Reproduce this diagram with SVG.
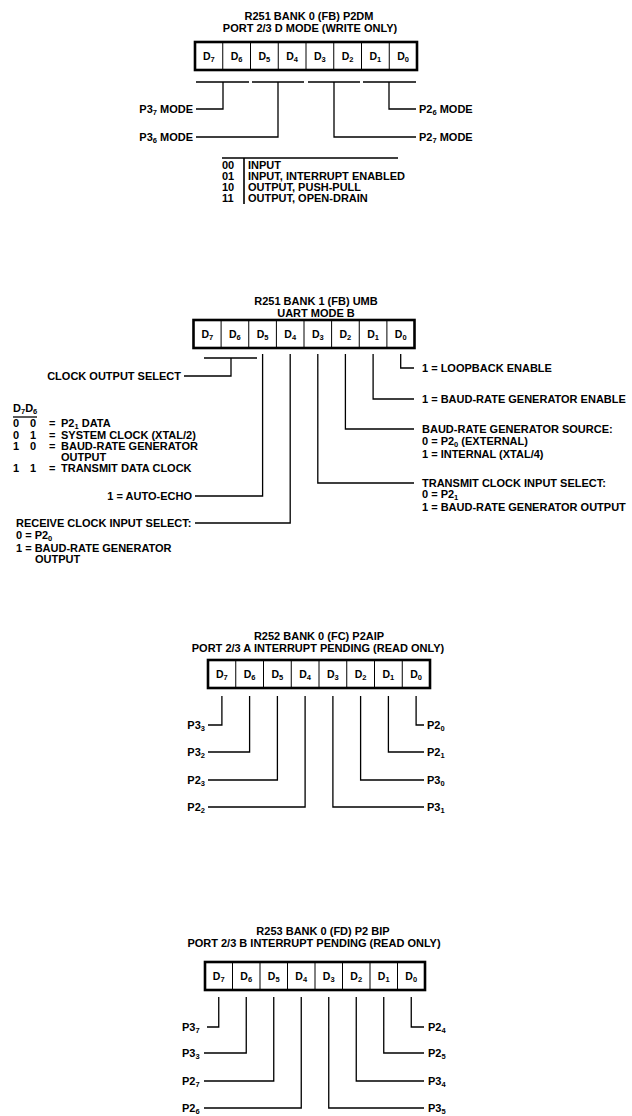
<svg xmlns="http://www.w3.org/2000/svg" width="632" height="1116" viewBox="0 0 632 1116">
<style>
.t{font-family:"Liberation Sans",Arial,sans-serif;font-weight:bold;font-size:11px;fill:#000}
.ttl{text-anchor:middle}
.cell{font-size:10.5px;text-anchor:middle}
.e{text-anchor:end}
.s{font-size:7.5px}
.box{fill:#fff;stroke:#000;stroke-width:2.6}
.dv{stroke:#000;stroke-width:1}
.ln{fill:none;stroke:#000;stroke-width:1.3}
.tb{fill:none;stroke:#000;stroke-width:1.6}
</style>
<rect width="632" height="1116" fill="#fff"/>

<!-- Register 1 -->
<g id="reg-r251-p2dm">
<text class="t ttl" x="309" y="20">R251 BANK 0 (FB) P2DM</text>
<text class="t ttl" x="310" y="32">PORT 2/3 D MODE (WRITE ONLY)</text>
<rect class="box" x="195" y="42" width="222" height="28"/>
<path class="dv" d="M222.75 42V70M250.5 42V70M278.25 42V70M306 42V70M333.75 42V70M361.5 42V70M389.25 42V70"/>
<text class="t cell" x="208.9" y="59.5">D<tspan class="s" dy="2">7</tspan></text>
<text class="t cell" x="236.6" y="59.5">D<tspan class="s" dy="2">6</tspan></text>
<text class="t cell" x="264.4" y="59.5">D<tspan class="s" dy="2">5</tspan></text>
<text class="t cell" x="292.1" y="59.5">D<tspan class="s" dy="2">4</tspan></text>
<text class="t cell" x="319.9" y="59.5">D<tspan class="s" dy="2">3</tspan></text>
<text class="t cell" x="347.6" y="59.5">D<tspan class="s" dy="2">2</tspan></text>
<text class="t cell" x="375.4" y="59.5">D<tspan class="s" dy="2">1</tspan></text>
<text class="t cell" x="403.1" y="59.5">D<tspan class="s" dy="2">0</tspan></text>
</g>
<g id="lbl-r251-p2dm">
<text class="t e" x="193" y="113">P3<tspan class="s" dy="1.5">7</tspan><tspan dy="-1.5"> MODE</tspan></text>
<text class="t e" x="193" y="141">P3<tspan class="s" dy="1.5">6</tspan><tspan dy="-1.5"> MODE</tspan></text>
<text class="t" x="419" y="113">P2<tspan class="s" dy="1.5">6</tspan><tspan dy="-1.5"> MODE</tspan></text>
<text class="t" x="419" y="141">P2<tspan class="s" dy="1.5">7</tspan><tspan dy="-1.5"> MODE</tspan></text>
</g>
<g id="legend-mode">
<path class="tb" d="M222 158H398M244 158V204"/>
<text class="t" x="222" y="169">00</text>
<text class="t" x="222" y="180">01</text>
<text class="t" x="222" y="191">10</text>
<text class="t" x="222" y="202">11</text>
<text class="t" x="248" y="169">INPUT</text>
<text class="t" x="248" y="180">INPUT, INTERRUPT ENABLED</text>
<text class="t" x="248" y="191">OUTPUT, PUSH-PULL</text>
<text class="t" x="248" y="202">OUTPUT, OPEN-DRAIN</text>
</g>

<!-- Register 2 -->
<g id="reg-r251-umb">
<text class="t ttl" x="316" y="305">R251 BANK 1 (FB) UMB</text>
<text class="t ttl" x="316" y="317">UART MODE B</text>
<rect class="box" x="193.5" y="320" width="221" height="28"/>
<path class="dv" d="M221.1 320V348M248.75 320V348M276.4 320V348M304 320V348M331.6 320V348M359.25 320V348M386.9 320V348"/>
<text class="t cell" x="207.3" y="337.5">D<tspan class="s" dy="2">7</tspan></text>
<text class="t cell" x="234.9" y="337.5">D<tspan class="s" dy="2">6</tspan></text>
<text class="t cell" x="262.6" y="337.5">D<tspan class="s" dy="2">5</tspan></text>
<text class="t cell" x="290.2" y="337.5">D<tspan class="s" dy="2">4</tspan></text>
<text class="t cell" x="317.8" y="337.5">D<tspan class="s" dy="2">3</tspan></text>
<text class="t cell" x="345.4" y="337.5">D<tspan class="s" dy="2">2</tspan></text>
<text class="t cell" x="373.1" y="337.5">D<tspan class="s" dy="2">1</tspan></text>
<text class="t cell" x="400.7" y="337.5">D<tspan class="s" dy="2">0</tspan></text>
</g>
<g id="lbl-r251-umb">
<text class="t e" x="181" y="380">CLOCK OUTPUT SELECT</text>
<text class="t e" x="192" y="500">1 = AUTO-ECHO</text>
<text class="t" x="16" y="527">RECEIVE CLOCK INPUT SELECT:</text>
<text class="t" x="16" y="539">0 = P2<tspan class="s" dy="1.5">0</tspan></text>
<text class="t" x="16" y="552">1 = BAUD-RATE GENERATOR</text>
<text class="t" x="35" y="563">OUTPUT</text>
<text class="t" x="422" y="372">1 = LOOPBACK ENABLE</text>
<text class="t" x="422" y="403">1 = BAUD-RATE GENERATOR ENABLE</text>
<text class="t" x="422" y="433">BAUD-RATE GENERATOR SOURCE:</text>
<text class="t" x="422" y="445">0 = P2<tspan class="s" dy="1.5">0</tspan><tspan dy="-1.5"> (EXTERNAL)</tspan></text>
<text class="t" x="422" y="458">1 = INTERNAL (XTAL/4)</text>
<text class="t" x="422" y="487">TRANSMIT CLOCK INPUT SELECT:</text>
<text class="t" x="422" y="498">0 = P2<tspan class="s" dy="1.5">1</tspan></text>
<text class="t" x="422" y="511">1 = BAUD-RATE GENERATOR OUTPUT</text>
</g>
<g id="legend-clock">
<text class="t" x="13" y="412">D<tspan class="s" dy="1.5">7</tspan><tspan dy="-1.5">D</tspan><tspan class="s" dy="1.5">6</tspan></text>
<path class="ln" d="M13 417H37"/>
<text class="t" x="13" y="427">0</text><text class="t" x="30" y="427">0</text><text class="t" x="49" y="427">=</text>
<text class="t" x="61" y="427">P2<tspan class="s" dy="1.5">1</tspan><tspan dy="-1.5"> DATA</tspan></text>
<text class="t" x="13" y="439">0</text><text class="t" x="30" y="439">1</text><text class="t" x="49" y="439">=</text>
<text class="t" x="61" y="439">SYSTEM CLOCK (XTAL/2)</text>
<text class="t" x="13" y="450">1</text><text class="t" x="30" y="450">0</text><text class="t" x="49" y="450">=</text>
<text class="t" x="61" y="450">BAUD-RATE GENERATOR</text>
<text class="t" x="61" y="461">OUTPUT</text>
<text class="t" x="13" y="472">1</text><text class="t" x="30" y="472">1</text><text class="t" x="49" y="472">=</text>
<text class="t" x="61" y="472">TRANSMIT DATA CLOCK</text>
</g>

<!-- Register 3 -->
<g id="reg-r252-p2aip">
<text class="t ttl" x="319" y="640">R252 BANK 0 (FC) P2AIP</text>
<text class="t ttl" x="318" y="652">PORT 2/3 A INTERRUPT PENDING (READ ONLY)</text>
<rect class="box" x="208" y="660" width="222" height="28"/>
<path class="dv" d="M235.75 660V688M263.5 660V688M291.25 660V688M319 660V688M346.75 660V688M374.5 660V688M402.25 660V688"/>
<text class="t cell" x="221.9" y="677.5">D<tspan class="s" dy="2">7</tspan></text>
<text class="t cell" x="249.6" y="677.5">D<tspan class="s" dy="2">6</tspan></text>
<text class="t cell" x="277.4" y="677.5">D<tspan class="s" dy="2">5</tspan></text>
<text class="t cell" x="305.1" y="677.5">D<tspan class="s" dy="2">4</tspan></text>
<text class="t cell" x="332.9" y="677.5">D<tspan class="s" dy="2">3</tspan></text>
<text class="t cell" x="360.6" y="677.5">D<tspan class="s" dy="2">2</tspan></text>
<text class="t cell" x="388.4" y="677.5">D<tspan class="s" dy="2">1</tspan></text>
<text class="t cell" x="416.1" y="677.5">D<tspan class="s" dy="2">0</tspan></text>
</g>
<g id="lbl-r252-p2aip">
<text class="t e" x="205" y="729">P3<tspan class="s" dy="2">3</tspan></text>
<text class="t e" x="205" y="756">P3<tspan class="s" dy="2">2</tspan></text>
<text class="t e" x="205" y="784">P2<tspan class="s" dy="2">3</tspan></text>
<text class="t e" x="205" y="811">P2<tspan class="s" dy="2">2</tspan></text>
<text class="t" x="427" y="729">P2<tspan class="s" dy="2">0</tspan></text>
<text class="t" x="427" y="756">P2<tspan class="s" dy="2">1</tspan></text>
<text class="t" x="427" y="784">P3<tspan class="s" dy="2">0</tspan></text>
<text class="t" x="427" y="811">P3<tspan class="s" dy="2">1</tspan></text>
</g>

<!-- Register 4 -->
<g id="reg-r253-p2bip">
<text class="t ttl" x="323" y="935">R253 BANK 0 (FD) P2 BIP</text>
<text class="t ttl" x="314" y="947">PORT 2/3 B INTERRUPT PENDING (READ ONLY)</text>
<rect class="box" x="205" y="962" width="220" height="28"/>
<path class="dv" d="M232.5 962V990M260 962V990M287.5 962V990M315 962V990M342.5 962V990M370 962V990M397.5 962V990"/>
<text class="t cell" x="218.75" y="979.5">D<tspan class="s" dy="2">7</tspan></text>
<text class="t cell" x="246.25" y="979.5">D<tspan class="s" dy="2">6</tspan></text>
<text class="t cell" x="273.75" y="979.5">D<tspan class="s" dy="2">5</tspan></text>
<text class="t cell" x="301.25" y="979.5">D<tspan class="s" dy="2">4</tspan></text>
<text class="t cell" x="328.75" y="979.5">D<tspan class="s" dy="2">3</tspan></text>
<text class="t cell" x="356.25" y="979.5">D<tspan class="s" dy="2">2</tspan></text>
<text class="t cell" x="383.75" y="979.5">D<tspan class="s" dy="2">1</tspan></text>
<text class="t cell" x="411.25" y="979.5">D<tspan class="s" dy="2">0</tspan></text>
</g>
<g id="lbl-r253-p2bip">
<text class="t" x="182" y="1031">P3<tspan class="s" dy="2">7</tspan></text>
<text class="t" x="182" y="1057">P3<tspan class="s" dy="2">3</tspan></text>
<text class="t" x="182" y="1085">P2<tspan class="s" dy="2">7</tspan></text>
<text class="t" x="182" y="1112">P2<tspan class="s" dy="2">6</tspan></text>
<text class="t" x="428" y="1031">P2<tspan class="s" dy="2">4</tspan></text>
<text class="t" x="428" y="1057">P2<tspan class="s" dy="2">5</tspan></text>
<text class="t" x="428" y="1085">P3<tspan class="s" dy="2">4</tspan></text>
<text class="t" x="428" y="1112">P3<tspan class="s" dy="2">5</tspan></text>
</g>

<g id="connectors">
<path class="ln" d="M196 82H249M252 82H304M308 82H360M363 82H416"/>
<path class="ln" d="M223 82V109H196M278 82V137H196M334 82V137H416M389 82V109H416"/>
<path class="ln" d="M204 358H257M231 358V376H184"/>
<path class="ln" d="M262.6 354V496H195M290.2 354V523H195M317.8 354V483H414M345.4 354V429H414M373.1 354V399H414M400.7 354V368H414"/>
<path class="ln" d="M221.9 696V725H208M249.6 696V752H208M277.4 696V780H208M305.1 696V807H208"/>
<path class="ln" d="M416.1 696V725H424M388.4 696V752H424M360.6 696V780H424M332.9 696V807H424"/>
<path class="ln" d="M218.75 997V1027H207M246.25 997V1053H204M273.75 997V1081H204M301.25 997V1108H204"/>
<path class="ln" d="M411.25 997V1027H424M383.75 997V1053H424M356.25 997V1081H424M328.75 997V1108H424"/>
</g>
</svg>
